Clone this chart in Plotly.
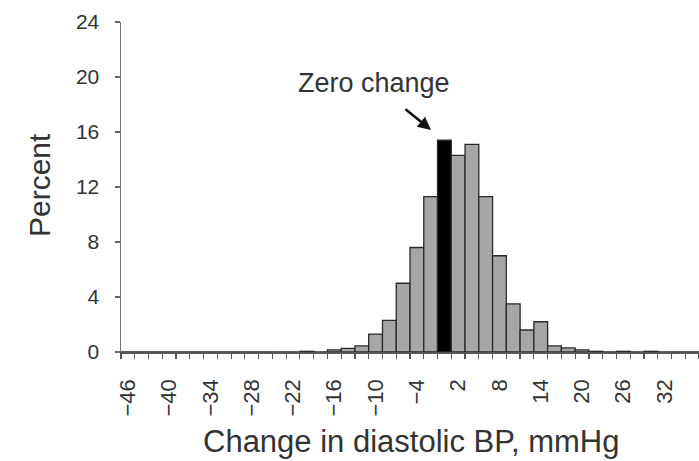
import plotly.graph_objects as go

bins = list(range(-46, 38, 2))
percent = [0, 0, 0, 0, 0, 0, 0, 0, 0, 0, 0, 0, 0, 0.05, 0, 0.15, 0.27, 0.45, 1.3, 2.3,
           5.0, 7.6, 11.3, 15.4, 14.3, 15.1, 11.3, 7.0, 3.5, 1.6, 2.2, 0.45, 0.3, 0.15,
           0.05, 0, 0.05, 0, 0.05, 0, 0, 0]
tick_values = list(range(-46, 33, 6))
tick_labels = [("\u2212" + str(-v)) if v < 0 else str(v) for v in tick_values]
y_ticks = [0, 4, 8, 12, 16, 20, 24]

colors = ["#000000" if b == 0 else "#a6a6a6" for b in bins]

W, H = 699, 461
L, R, T, B = 121, 0, 22, 109
pw, ph = W - L - R, H - T - B

fig = go.Figure(go.Bar(
    x=bins, y=percent, marker=dict(color=colors, line=dict(color="#2a2a2a", width=1.3)),
    width=2, hoverinfo="skip",
))

FONT = "Liberation Sans, Arial, sans-serif"
fig.update_layout(
    width=W, height=H,
    margin=dict(l=L, r=R, t=T, b=B, autoexpand=False),
    paper_bgcolor="white", plot_bgcolor="white",
    bargap=0, showlegend=False,
    font=dict(family=FONT, color="#333333"),
    xaxis=dict(
        range=[-47, 37], tickvals=tick_values, ticktext=tick_labels, tickangle=-90,
        ticks="", ticklabelstandoff=17, showgrid=False, zeroline=False, showline=True,
        linecolor="#555555", linewidth=1.5, tickfont=dict(size=22, color="#333333"),
        minor=dict(tick0=-47, dtick=2, ticks="outside", ticklen=5, tickcolor="#555555",
                   tickwidth=1.2, showgrid=False),
    ),
    yaxis=dict(
        range=[0, 24], tickvals=y_ticks, ticks="outside", ticklen=5, tickcolor="#666666",
        tickwidth=1.2, ticklabelstandoff=11, showgrid=False, zeroline=False, showline=True,
        linecolor="#777777", linewidth=1.5, tickfont=dict(size=21, color="#333333"),
    ),
)

def px2paper(x, y):
    return (x - L) / pw, (H - B - y) / ph

ann = []
for text, x, y, size, angle in [
    ("Percent", 39, 185, 30, -90),
    ("Change in diastolic BP, mmHg", 411, 441, 31, 0),
    ("Zero change", 374, 83, 27, 0),
]:
    xp, yp = px2paper(x, y)
    ann.append(dict(text=text, x=xp, y=yp, xref="paper", yref="paper", showarrow=False,
                    xanchor="center", yanchor="middle", textangle=angle,
                    font=dict(size=size, color="#333333", family=FONT)))

tip = px2paper(431, 130)
ann.append(dict(text="", x=tip[0], y=tip[1], xref="paper", yref="paper",
                ax=404 - 431, ay=108 - 130, axref="pixel", ayref="pixel",
                showarrow=True, arrowhead=2, arrowsize=1, arrowwidth=2.6,
                arrowcolor="#111111"))
fig.update_layout(annotations=ann)

fig.write_html("out.html", config={"displayModeBar": False, "staticPlot": True},
               post_script="document.body.style.margin='0';document.body.style.overflow='hidden';")
